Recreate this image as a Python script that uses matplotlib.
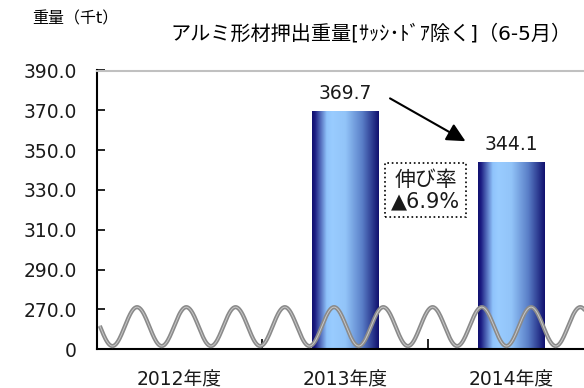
import numpy as np
import matplotlib
matplotlib.use("Agg")
import matplotlib.pyplot as plt
from matplotlib.colors import LinearSegmentedColormap

plt.rcParams['font.family'] = ['DejaVu Sans', 'Noto Sans CJK JP']

# data
years = ['2012年度', '2013年度', '2014年度']
weights = [None, 369.7, 344.1]
growth_text = '伸び率\n▲6.9%'
title = 'アルミ形材押出重量[ｻｯｼ･ﾄﾞｱ除く]（6-5月）'
unit = '重量（千t）'
y_ticks = [250, 270, 290, 310, 330, 350, 370, 390]
y_labels = ['0', '270.0', '290.0', '310.0', '330.0', '350.0', '370.0', '390.0']
y_base = 250  # the "0" baseline sits at the broken-axis bottom

fig = plt.figure(figsize=(5.84, 3.88), dpi=100)
ax = fig.add_axes([96.5 / 584, 38.7 / 388, 497.5 / 584, 278.8 / 388])
ax.set_xlim(-0.5, 2.5)
ax.set_ylim(y_base, 390)

# gradient bars
grad_cmap = LinearSegmentedColormap.from_list(
    'bar', [(0.0, '#10106e'), (0.04, '#1a1a80'), (0.22, '#8fc3fb'),
            (0.3, '#99ccff'), (0.5, '#92c4f8'), (0.75, '#5a7fc8'),
            (1.0, '#10106e')])
grad = np.linspace(0, 1, 256).reshape(1, -1)
bar_w = 0.4
for i, v in enumerate(weights):
    if v is None:
        continue
    bar = ax.bar(i, v - y_base, bottom=y_base, width=bar_w,
                 color='none', edgecolor='none', zorder=2)[0]
    im = ax.imshow(grad, cmap=grad_cmap, aspect='auto', zorder=2,
                   extent=[i - bar_w / 2, i + bar_w / 2, y_base, v])
    im.set_clip_path(bar)
    ax.annotate(f'{v:.1f}', (i, v), xytext=(0, 6), textcoords='offset points',
                ha='center', va='bottom', fontsize=13.5, color='#1a1a1a')

# axis-break wave
wave_x = np.linspace(-0.48, 2.5, 800)
wave_y = 261.4 - 9.77 * np.cos(2 * np.pi * (wave_x + 0.404) / 0.297)
ax.plot(wave_x, wave_y, color='#8a8a8a', lw=3.0, zorder=3, solid_capstyle='butt')
ax.plot(wave_x, wave_y, color='#c8c8c8', lw=0.7, zorder=4)

# arrow and growth box
ax.annotate('', xy=(1.725, 354.5), xytext=(1.27, 376.0),
            arrowprops=dict(arrowstyle='-|>', color='black', lw=1.5,
                            mutation_scale=28, shrinkA=0, shrinkB=0))
ax.text(1.485, 329.8, growth_text, ha='center', va='center', fontsize=15,
        linespacing=1.1, zorder=5, color='#1a1a1a',
        bbox=dict(boxstyle='square,pad=0.3', fc='white', ec='black',
                  ls=':', lw=1.2))

# axes styling
ax.set_yticks(y_ticks)
ax.set_yticklabels(y_labels)
ax.set_xticks(range(len(years)))
ax.set_xticklabels(years)
ax.set_xticks([0.5, 1.5], minor=True)
ax.tick_params(axis='y', direction='in', length=6, width=1.2, pad=14,
               labelsize=13.5, labelcolor='#1a1a1a')
ax.tick_params(axis='x', which='major', length=0, pad=15, labelsize=13.5,
               labelcolor='#1a1a1a')
ax.tick_params(axis='x', which='minor', direction='in', length=7, width=1.2)
for s in ['left', 'bottom']:
    ax.spines[s].set_linewidth(1.5)
    ax.spines[s].set_color('black')
ax.spines['top'].set_color('#c0c0c0')
ax.spines['top'].set_linewidth(1.5)
ax.spines['right'].set_visible(False)

fig.text(371 / 584, 1 - 34 / 388, title, ha='center', va='center', fontsize=14.5)
fig.text(75 / 584, 1 - 19 / 388, unit, ha='center', va='center', fontsize=11.5)

fig.savefig('out.png', dpi=100)
